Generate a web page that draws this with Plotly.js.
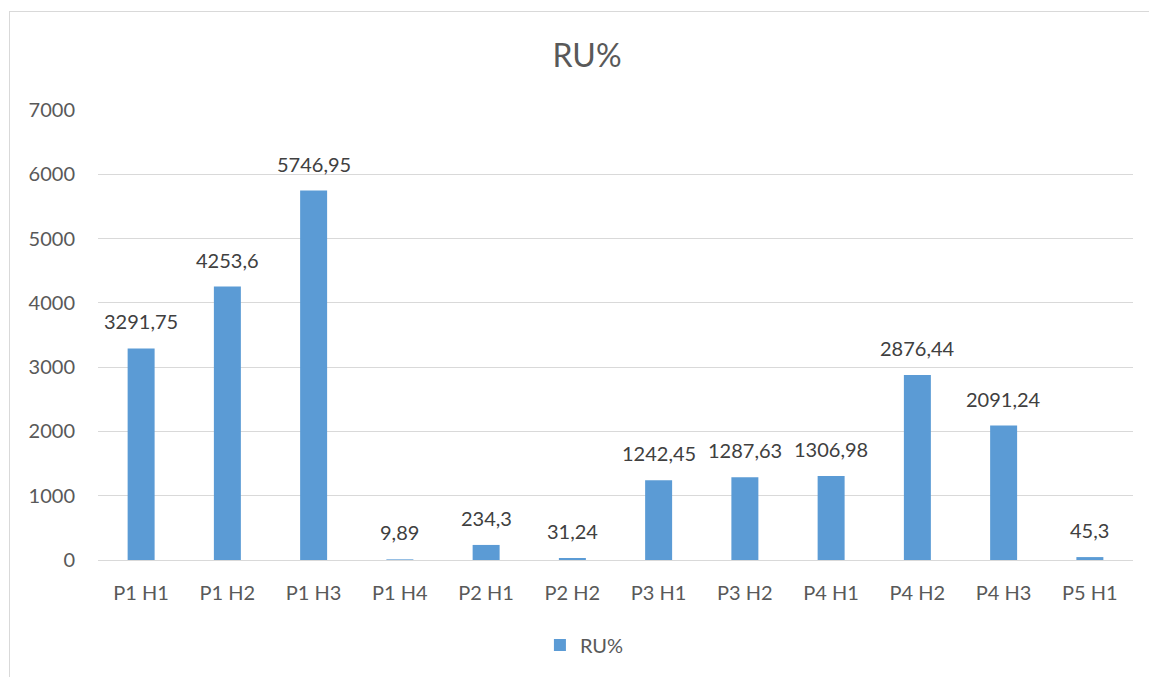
<!DOCTYPE html>
<html>
<head>
<meta charset="utf-8">
<script src="https://cdn.plot.ly/plotly-3.0.1.min.js"></script>
<style>
  html, body { margin: 0; padding: 0; background: #fff; overflow: hidden; }
  #wrap { position: relative; width: 1149px; height: 677px; }
  #frame { position: absolute; left: 9px; top: 11px; width: 1160px; height: 700px; border: 1px solid #d9d9d9; pointer-events: none; }
  #chart { position: absolute; left: 0; top: 0; width: 1149px; height: 677px; }
</style>
</head>
<body>
<div id="wrap">
  <div id="chart"></div>
  <div id="frame"></div>
</div>
<script>
const categories = ["P1 H1","P1 H2","P1 H3","P1 H4","P2 H1","P2 H2","P3 H1","P3 H2","P4 H1","P4 H2","P4 H3","P5 H1"];
const values = [3291.75, 4253.6, 5746.95, 9.89, 234.3, 31.24, 1242.45, 1287.63, 1306.98, 2876.44, 2091.24, 45.3];
const seriesName = "RU%";
const yTicks = [0, 1000, 2000, 3000, 4000, 5000, 6000, 7000];

const labels = values.map(v => String(v).replace('.', ','));
const font = "Lato, Calibri, 'Open Sans', sans-serif";

const trace = {
  type: 'bar',
  x: categories,
  y: values,
  name: seriesName,
  marker: { color: '#5b9bd5' },
  hoverinfo: 'x+y'
};

const annotations = categories.map((c, i) => ({
  x: c, y: values[i], xref: 'x', yref: 'y',
  text: labels[i], showarrow: false,
  yanchor: 'middle', yshift: 27,
  font: { family: font, size: 20, color: '#404040' }
}));

const layout = {
  width: 1149, height: 677,
  margin: { l: 98, r: 16, t: 110, b: 117 },
  paper_bgcolor: 'rgba(0,0,0,0)',
  plot_bgcolor: '#fff',
  font: { family: font, color: '#595959', size: 20 },
  title: { text: 'RU%', font: { family: font, size: 32, color: '#595959' }, x: 587/1149, xref: 'container', xanchor: 'center', y: 1 - 56/677, yref: 'container', yanchor: 'middle' },
  bargap: 0.687,
  showlegend: true,
  legend: { orientation: 'h', x: 540/1149, xanchor: 'center', y: 1 - 645/677, yref: 'container', yanchor: 'middle', font: { family: font, size: 20, color: '#595959' } },
  annotations: annotations,
  xaxis: {
    type: 'category',
    showgrid: false,
    showline: true, linecolor: '#d9d9d9', linewidth: 1,
    ticks: '', ticklabelstandoff: 15,
    tickfont: { family: font, size: 20, color: '#595959' },
    fixedrange: true
  },
  yaxis: {
    range: [0, 7000],
    tickvals: yTicks,
    ticktext: yTicks.map(String),
    showgrid: true, gridcolor: '#d9d9d9', gridwidth: 1,
    zeroline: false, showline: false,
    ticks: '', ticklabelstandoff: 22,
    tickfont: { family: font, size: 20, color: '#595959' },
    fixedrange: true
  }
};

Plotly.newPlot('chart', [trace], layout, { displayModeBar: false, staticPlot: true });
</script>
</body>
</html>
